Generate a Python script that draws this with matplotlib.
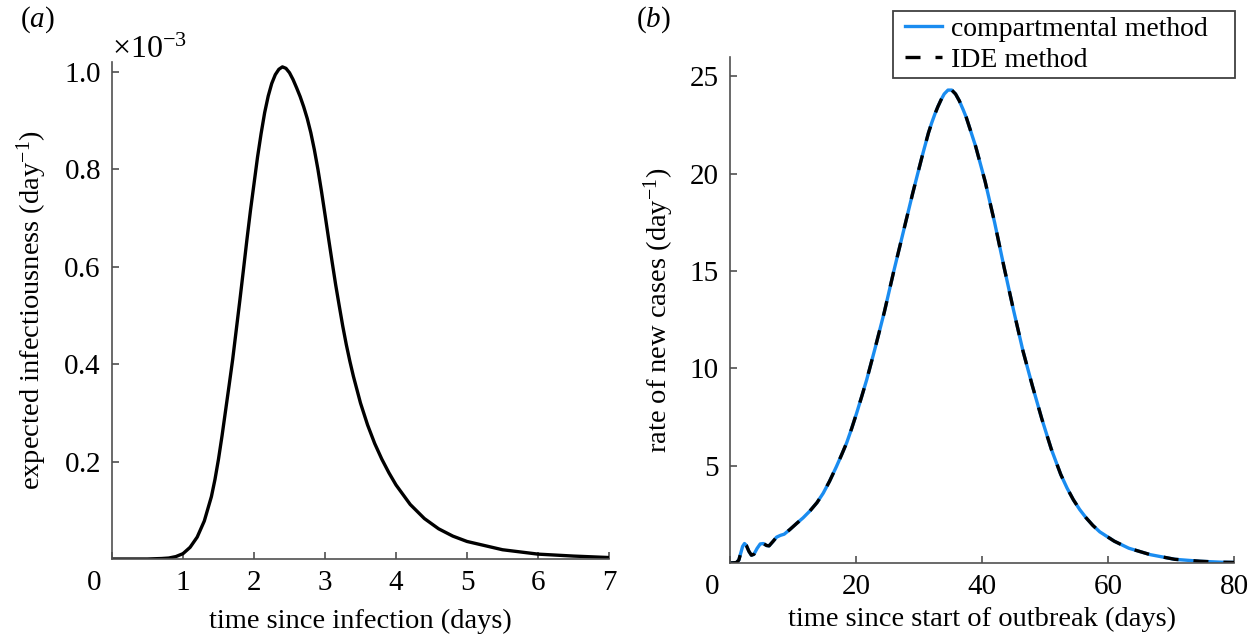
import matplotlib
matplotlib.use("Agg")
import matplotlib.pyplot as plt
import matplotlib.transforms as mtransforms
from matplotlib.patches import Rectangle
from matplotlib.ticker import ScalarFormatter

plt.rcParams['font.family'] = ['Liberation Serif', 'DejaVu Serif']
plt.rcParams['mathtext.fontset'] = 'custom'
plt.rcParams['mathtext.rm'] = 'Liberation Serif'
plt.rcParams['mathtext.it'] = 'Liberation Serif:italic'
plt.rcParams['mathtext.bf'] = 'Liberation Serif:bold'
plt.rcParams['axes.unicode_minus'] = True

# ---------------- data (a): expected infectiousness (day^-1) ----------------
t_inf = [0.0, 0.5, 0.7, 0.8, 0.9, 1.0, 1.1, 1.2, 1.3, 1.4, 1.45, 1.5, 1.55,
         1.6, 1.65, 1.7, 1.75, 1.8, 1.85, 1.9, 1.95, 2.0, 2.05, 2.1, 2.15, 2.2,
         2.25, 2.3, 2.35, 2.4, 2.45, 2.5, 2.55, 2.6, 2.65, 2.7, 2.75, 2.8, 2.85,
         2.9, 2.95, 3.0, 3.05, 3.1, 3.15, 3.2, 3.25, 3.3, 3.35, 3.4, 3.5, 3.6,
         3.7, 3.8, 3.9, 4.0, 4.2, 4.4, 4.6, 4.8, 5.0, 5.5, 6.0, 6.5, 7.0]
infectiousness = [v * 1e-3 for v in
                  [0.0, 0.0, 0.001, 0.002, 0.005, 0.011, 0.024, 0.045, 0.078,
                   0.128, 0.163, 0.205, 0.253, 0.305, 0.357, 0.41, 0.47, 0.53,
                   0.592, 0.655, 0.715, 0.77, 0.825, 0.873, 0.916, 0.95, 0.976,
                   0.994, 1.005, 1.01, 1.007, 0.998, 0.984, 0.967, 0.949, 0.928,
                   0.904, 0.875, 0.84, 0.80, 0.755, 0.707, 0.658, 0.61, 0.563,
                   0.52, 0.478, 0.44, 0.406, 0.375, 0.32, 0.275, 0.237, 0.205,
                   0.177, 0.152, 0.112, 0.083, 0.062, 0.047, 0.036, 0.019,
                   0.010, 0.006, 0.003]]

# ---------------- data (b): rate of new cases (day^-1) ----------------
t_outbreak = [0, 1, 1.4, 1.7, 2.0, 2.3, 2.6, 3.0, 3.4, 3.8, 4.3, 4.8, 5.3, 5.8,
              6.2, 6.8, 7.4, 8.0, 8.6, 9.5, 10.6, 11.6, 12.7, 13.8, 14.8, 15.8,
              16.9, 17.7, 18.5, 19.3, 20.1, 20.9, 21.7, 23, 24.5, 26, 27.5, 29,
              30.5, 31, 31.5, 32, 32.5, 33, 33.5, 34, 34.6, 35.2, 35.8, 36.4,
              37, 37.5, 38, 38.5, 39, 40.5, 42, 43.5, 45, 46.5, 48, 49.5, 51,
              52.5, 53.5, 54.5, 55.5, 56.5, 57.6, 58.7, 61, 63.3, 66.7, 70.6,
              74.6, 78, 80]
new_cases = [0, 0.02, 0.15, 0.5, 0.85, 1.0, 0.9, 0.6, 0.4, 0.45, 0.75, 0.98,
             1.0, 0.9, 0.88, 1.1, 1.33, 1.42, 1.48, 1.72, 2.04, 2.32, 2.68,
             3.1, 3.59, 4.2, 4.96, 5.55, 6.16, 6.9, 7.7, 8.55, 9.42, 11.0,
             12.9, 15.0, 17.0, 19.0, 20.9, 21.5, 22.1, 22.6, 23.05, 23.45,
             23.8, 24.1, 24.3, 24.3, 24.1, 23.75, 23.3, 22.9, 22.4, 21.9, 21.4,
             19.6, 17.5, 15.2, 13.0, 10.9, 9.1, 7.4, 5.85, 4.55, 3.85, 3.25,
             2.75, 2.33, 1.93, 1.6, 1.12, 0.76, 0.43, 0.19, 0.09, 0.04, 0.03]

xticks_a = [0, 1, 2, 3, 4, 5, 6, 7]
yticks_a = [0.2e-3, 0.4e-3, 0.6e-3, 0.8e-3, 1.0e-3]
xticks_b = [0, 20, 40, 60, 80]
yticks_b = [5, 10, 15, 20, 25]

FS = 21
LFS = 20.5
spine_col = '#505050'
blue = '#1a8cf0'

fig = plt.figure(figsize=(12.59, 6.37), dpi=100)
W, H = 1259, 637

def add_axes(l, r, b, t):
    return fig.add_axes([l / W, 1 - b / H, (r - l) / W, (b - t) / H])

ax1 = add_axes(112, 609, 559, 62)
ax2 = add_axes(730, 1234, 563, 57)

for ax in (ax1, ax2):
    for s in ('top', 'right'):
        ax.spines[s].set_visible(False)
    for s in ('left', 'bottom'):
        ax.spines[s].set_color(spine_col)
        ax.spines[s].set_linewidth(1.2)
    ax.tick_params(direction='in', length=5, width=1.2, color=spine_col,
                   labelsize=FS, labelcolor='black', pad=8)

# panel (a)
ax1.plot(t_inf, infectiousness, color='black', lw=2.4, solid_joinstyle='round')
ax1.set_xlim(0, 7)
ax1.set_ylim(0, 1.02e-3)
ax1.set_xticks(xticks_a)
ax1.set_yticks(yticks_a)
fmt = ScalarFormatter(useMathText=True)
fmt.set_powerlimits((-2, 2))
ax1.yaxis.set_major_formatter(fmt)
ax1.yaxis.get_offset_text().set_fontsize(23)
ax1.set_xlabel('time since infection (days)', fontsize=LFS, labelpad=9)
ax1.set_ylabel('expected infectiousness (day$^{-1}$)', fontsize=LFS, labelpad=10)

# panel (b)
l1, = ax2.plot(t_outbreak, new_cases, color=blue, lw=2.4, solid_joinstyle='round')
l2, = ax2.plot(t_outbreak, new_cases, color='black', lw=2.4,
               linestyle=(0, (4.5, 4.5)), dash_joinstyle='round')
ax2.set_xlim(0, 80)
ax2.set_ylim(0, 26)
ax2.set_xticks(xticks_b)
ax2.set_yticks(yticks_b)
ax2.set_xlabel('time since start of outbreak (days)', fontsize=LFS, labelpad=5)
ax2.set_ylabel('rate of new cases (day$^{-1}$)', fontsize=LFS, labelpad=10)

# legend with a MATLAB-like wide box
fig.patches.append(Rectangle((893 / W, 1 - 78 / H), (1235 - 893) / W, 67 / H,
                             transform=fig.transFigure, fill=False,
                             edgecolor='#404040', linewidth=1.3))
leg = fig.legend([l1, l2], ['compartmental method', 'IDE method'],
                 loc='upper left', bbox_to_anchor=(902 / W, 1 - 14 / H),
                 bbox_transform=fig.transFigure, fontsize=20, frameon=False,
                 handlelength=1.35, handletextpad=0.3, borderpad=0.1,
                 labelspacing=0.2, borderaxespad=0)

# shift the "0" x tick labels to the left of the origin
fig.canvas.draw()
for ax in (ax1, ax2):
    lab = ax.get_xticklabels()[0]
    lab.set_transform(lab.get_transform() +
                      mtransforms.ScaledTranslation(-18 / 100, 0, fig.dpi_scale_trans))

fig.text(20 / W, 1 - 20 / H, r'$\mathrm{(}\mathit{a}\mathrm{)}$', fontsize=FS,
         va='center', ha='left')
fig.text(636 / W, 1 - 20 / H, r'$\mathrm{(}\mathit{b}\mathrm{)}$', fontsize=FS,
         va='center', ha='left')

fig.savefig('out.png', dpi=100)
